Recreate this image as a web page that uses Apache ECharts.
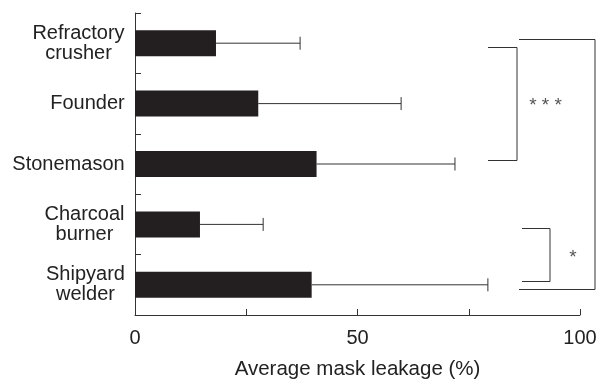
<!DOCTYPE html>
<html>
<head>
<meta charset="utf-8">
<script src="https://cdn.jsdelivr.net/npm/echarts@6/dist/echarts.min.js"></script>
<style>html,body{margin:0;padding:0;background:#fff;}#c{width:599px;height:379px;}</style>
</head>
<body>
<div id="c"></div>
<script>
var categories = ['Refractory\ncrusher', 'Founder', 'Stonemason', 'Charcoal\nburner', 'Shipyard\nwelder'];
var means = [18.2, 27.7, 40.8, 14.6, 39.7];
var sds = [18.9, 32.1, 31.1, 14.2, 39.6];
var xTicks = [0, 25, 50, 75, 100];
var xLabeled = [0, 50, 100];

var FONT = '"Liberation Sans", Arial, Helvetica, sans-serif';
var LABEL_SIZE = 20;

// measure label widths so that multi-line labels are centred within a right-aligned block
var ctx = document.createElement('canvas').getContext('2d');
ctx.font = LABEL_SIZE + 'px ' + FONT;
var rich = {};
categories.forEach(function (c, i) {
  var w = 0;
  c.split('\n').forEach(function (l) { w = Math.max(w, ctx.measureText(l).width); });
  rich['r' + i] = {width: Math.ceil(w), align: 'center', fontFamily: FONT, fontSize: LABEL_SIZE, lineHeight: 20, color: '#222'};
});

var chart = echarts.init(document.getElementById('c'), null, {renderer: 'canvas'});

var errData = means.map(function (m, i) { return [m, i, m + sds[i]]; });

var option = {
  animation: false,
  backgroundColor: '#fff',
  grid: {left: 135, right: 19, top: 13, bottom: 64, containLabel: false, outerBoundsMode: 'none'},
  xAxis: {
    type: 'value',
    min: xTicks[0], max: xTicks[xTicks.length - 1], interval: 25,
    name: 'Average mask leakage (%)',
    nameLocation: 'middle',
    nameGap: 43.5,
    nameTextStyle: {fontFamily: FONT, fontSize: 20.5, color: '#222'},
    axisLine: {show: true, lineStyle: {color: '#333', width: 1}},
    axisTick: {show: true, inside: true, length: 6, lineStyle: {color: '#333', width: 1}},
    axisLabel: {
      margin: 13, fontFamily: FONT, fontSize: 20, color: '#222',
      formatter: function (v) { return xLabeled.indexOf(v) >= 0 ? String(v) : ''; }
    },
    splitLine: {show: false}
  },
  yAxis: {
    type: 'category',
    data: categories,
    inverse: true,
    axisLine: {show: true, lineStyle: {color: '#333', width: 1}},
    axisTick: {show: true, inside: true, length: 6, lineStyle: {color: '#333', width: 1}},
    axisLabel: {
      margin: 10, align: 'right', fontFamily: FONT, fontSize: LABEL_SIZE, lineHeight: 20, color: '#222',
      formatter: function (v, i) {
        return v.split('\n').map(function (l) { return '{r' + i + '|' + l + '}'; }).join('\n');
      },
      rich: rich
    },
    splitLine: {show: false}
  },
  series: [
    {
      type: 'bar',
      data: means,
      barWidth: 26,
      itemStyle: {color: '#231f20'},
      z: 2
    },
    {
      type: 'custom',
      data: errData,
      encode: {x: [0, 2], y: 1},
      z: 3,
      renderItem: function (params, api) {
        var idx = api.value(1);
        var p0 = api.coord([api.value(0), idx]);
        var p1 = api.coord([api.value(2), idx]);
        var h = 6.5;
        var st = {stroke: '#333', lineWidth: 1, fill: null};
        return {
          type: 'group',
          children: [
            {type: 'line', shape: {x1: p0[0], y1: p0[1], x2: p1[0], y2: p1[1]}, style: st},
            {type: 'line', shape: {x1: p1[0], y1: p1[1] - h, x2: p1[0], y2: p1[1] + h}, style: st}
          ]
        };
      }
    }
  ],
  graphic: [
    {type: 'polyline', shape: {points: [[488, 47.5], [517, 47.5], [517, 160.5], [488, 160.5]]}, style: {stroke: '#333', lineWidth: 1, fill: null}},
    {type: 'polyline', shape: {points: [[519, 39.5], [595, 39.5], [595, 289.5], [519, 289.5]]}, style: {stroke: '#333', lineWidth: 1, fill: null}},
    {type: 'polyline', shape: {points: [[522, 228.5], [550, 228.5], [550, 281.5], [522, 281.5]]}, style: {stroke: '#333', lineWidth: 1, fill: null}},
    {type: 'text', x: 545.5, y: 106, style: {text: '* * *', fontFamily: FONT, fontSize: 19, fill: '#555', align: 'center', verticalAlign: 'middle'}},
    {type: 'text', x: 573, y: 258, style: {text: '*', fontFamily: FONT, fontSize: 19, fill: '#555', align: 'center', verticalAlign: 'middle'}}
  ]
};
chart.setOption(option);
</script>
</body>
</html>
